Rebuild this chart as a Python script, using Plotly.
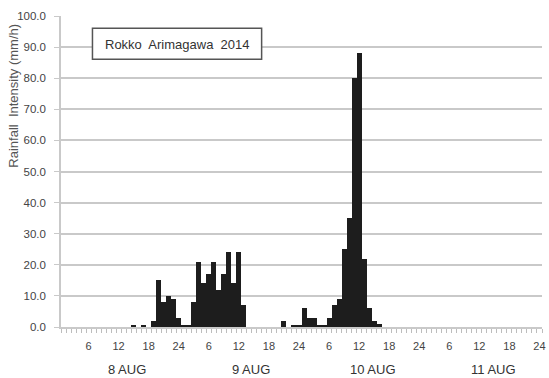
import plotly.graph_objects as go

# Hourly rainfall at Rokko Arimagawa, 8-11 August 2014 (hour 1 = 00-01 on 8 AUG)
hours = list(range(1, 97))
rain_mm_h = (
    [0] * 14
    + [0.5, 0, 0.5, 0, 2, 15, 8, 10, 9, 3]          # 8 AUG, hours 15-24
    + [0.5, 0.5, 8, 21, 14, 17, 21, 12, 17, 24, 14, 24, 7]  # 9 AUG, hours 1-13
    + [0] * 7
    + [2, 0, 0.5, 0.5]                               # 9 AUG, hours 21-24
    + [6, 3, 3, 0.5, 0.5, 3, 7, 9, 25, 35, 80, 88, 22, 6, 2, 1]  # 10 AUG, hours 1-16
    + [0] * 32
)

hour_labels = [str(h % 24 or 24) if h % 6 == 0 else "" for h in hours]
day_names = ["8 AUG", "9 AUG", "10 AUG", "11 AUG"]
day_label_x = [13.6, 38.5, 62.7, 86.8]
y_ticks = [0, 10, 20, 30, 40, 50, 60, 70, 80, 90, 100]

NARROW = "Liberation Sans Narrow, Arial Narrow, sans-serif"
GRID = "#c9c9c9"

fig = go.Figure(
    go.Bar(
        x=hours,
        y=rain_mm_h,
        width=1.0,
        marker=dict(color="#1d1d1d", line=dict(width=0)),
        showlegend=False,
    )
)

fig.update_layout(
    width=549,
    height=378,
    margin=dict(l=61, r=3, t=16, b=51),
    paper_bgcolor="white",
    plot_bgcolor="white",
    bargap=0,
    font=dict(family=NARROW, color="#444444"),
)

fig.update_xaxes(
    range=[0.5, 96.5],
    tickmode="array",
    tickvals=hours,
    ticktext=hour_labels,
    ticks="",
    ticklabelstandoff=8,
    ticklabeloverflow="allow",
    tickfont=dict(size=11, color="#444444"),
    showgrid=False,
    zeroline=False,
    showline=True,
    linecolor=GRID,
    linewidth=1.5,
    minor=dict(tick0=0.5, dtick=1, ticks="outside", ticklen=4,
               tickcolor="#bdbdbd", tickwidth=1, showgrid=False),
)

fig.update_yaxes(
    range=[0, 100],
    tickmode="array",
    tickvals=y_ticks,
    tickformat=".1f",
    ticks="outside",
    ticklen=5,
    tickcolor=GRID,
    ticklabelstandoff=6,
    tickfont=dict(size=11.5, color="#444444"),
    showgrid=True,
    gridcolor=GRID,
    gridwidth=1.5,
    zeroline=False,
    showline=True,
    linecolor=GRID,
    linewidth=1.5,
)

# Day names under the hour labels
for name, xpos in zip(day_names, day_label_x):
    fig.add_annotation(
        x=xpos, y=-0.137, xref="x", yref="paper",
        text=name, showarrow=False,
        font=dict(family=NARROW, size=13, color="#333333"),
        xanchor="center", yanchor="middle",
    )

# Vertical axis title
fig.add_annotation(
    x=-0.099, y=0.745, xref="paper", yref="paper",
    text="Rainfall  Intensity (mm/h)", textangle=-90, showarrow=False,
    font=dict(family=NARROW, size=13, color="#555555"),
    xanchor="center", yanchor="middle",
)

# Station name box
fig.add_shape(
    type="rect", xref="paper", yref="paper",
    x0=0.0654, x1=0.4171, y0=0.8608, y1=0.9605,
    line=dict(color="#555555", width=1.5), fillcolor="white", layer="above",
)
fig.add_annotation(
    x=0.2412, y=0.909, xref="paper", yref="paper",
    text="Rokko  Arimagawa  2014", showarrow=False,
    font=dict(family=NARROW, size=13, color="#333333"),
    xanchor="center", yanchor="middle",
)

fig.write_html("out.html")
